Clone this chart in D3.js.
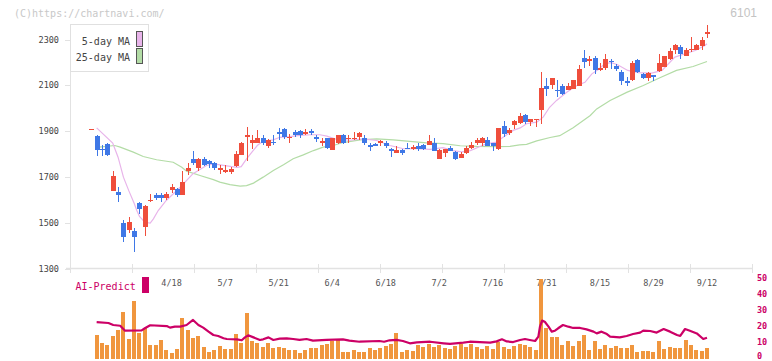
<!DOCTYPE html>
<html><head><meta charset="utf-8">
<script src="https://cdn.jsdelivr.net/npm/d3@7"></script>
<style>html,body{margin:0;padding:0;background:#fff;}svg{display:block;}</style>
</head><body>
<svg id="chart" width="772" height="361"></svg>
<script>
// ---- data ----
const opens  = [1907,1878,1823,1845,1638,1632,1500,1466,1462,1587,1480,1593,1619,1619,1606,1642,1648,1623,1727,1780,1740,1780,1768,1760,1731,1726,1720,1747,1797,1873,1848,1848,1871,1834,1854,1895,1907,1874,1895,1902,1891,1902,1876,1847,1868,1818,1847,1881,1869,1870,1875,1872,1841,1843,1847,1850,1821,1804,1817,1828,1826,1834,1840,1841,1850,1777,1805,1828,1807,1782,1804,1827,1849,1849,1863,1849,1820,1923,1891,1925,1935,1972,1939,1952,1990,2099,2102,2081,2098,2079,2083,2096,2218,2205,2218,2165,2175,2208,2186,2160,2117,2121,2212,2151,2133,2146,2162,2182,2213,2256,2269,2230,2257,2255,2271,2323];
const highs  = [1911,1885,1840,1848,1724,1654,1513,1527,1479,1589,1578,1626,1629,1630,1632,1667,1652,1724,1762,1815,1781,1786,1775,1764,1750,1754,1744,1815,1851,1920,1884,1903,1881,1864,1881,1913,1914,1888,1904,1906,1910,1907,1885,1869,1869,1870,1885,1888,1881,1895,1895,1885,1846,1849,1863,1855,1827,1833,1823,1850,1838,1846,1843,1885,1872,1820,1821,1834,1814,1808,1837,1852,1868,1873,1876,1850,1915,1942,1914,1948,1978,1973,1955,1955,2160,2134,2134,2125,2107,2112,2122,2190,2252,2230,2226,2197,2238,2213,2192,2165,2138,2208,2213,2155,2160,2147,2238,2227,2261,2281,2275,2264,2311,2281,2311,2364];
const lows   = [1907,1790,1793,1790,1638,1590,1415,1456,1374,1539,1444,1592,1598,1590,1601,1630,1614,1619,1707,1754,1727,1747,1740,1732,1713,1716,1712,1745,1795,1769,1824,1846,1841,1825,1840,1863,1866,1849,1876,1871,1885,1884,1852,1834,1823,1816,1845,1843,1847,1863,1863,1840,1812,1833,1837,1825,1786,1803,1795,1821,1817,1812,1818,1840,1811,1776,1789,1811,1772,1781,1802,1823,1838,1837,1833,1812,1818,1873,1882,1907,1932,1929,1924,1920,1932,2052,2083,2048,2057,2078,2082,2095,2176,2183,2150,2162,2168,2170,2162,2103,2096,2120,2153,2127,2117,2117,2160,2181,2212,2238,2216,2229,2246,2252,2255,2307];
const closes = [1911,1817,1820,1795,1702,1621,1437,1501,1437,1559,1571,1601,1606,1607,1627,1654,1620,1676,1741,1759,1780,1751,1755,1738,1740,1730,1733,1798,1850,1885,1859,1871,1846,1863,1847,1887,1873,1876,1881,1884,1895,1893,1865,1856,1825,1868,1881,1847,1872,1872,1891,1847,1830,1836,1856,1833,1814,1817,1804,1825,1829,1821,1824,1855,1814,1817,1820,1814,1779,1802,1827,1841,1860,1868,1834,1834,1914,1887,1903,1942,1968,1939,1954,1954,2090,2085,2133,2079,2063,2095,2121,2173,2201,2215,2165,2176,2216,2201,2169,2117,2109,2196,2160,2131,2155,2135,2196,2226,2248,2274,2238,2255,2260,2274,2296,2331];

// 5-day MA: [candle index, value]
const ma5 = [[1,1914],[4,1848],[5,1786],[6,1699],[7,1640],[8,1585],[8.5,1553],[9,1527],[10,1502],[11,1498],[11.6,1517],[12.5,1553],[14,1597],[16.6,1655],[19,1714],[21.5,1750],[22.8,1757],[24.7,1750],[27.2,1742],[28,1745],[29,1779],[30,1808],[31,1837],[32,1854],[33,1859],[34,1862],[35.2,1873],[37,1876],[39,1881],[41,1884],[42.7,1884],[44,1878],[45.5,1866],[48.3,1860],[50.8,1866],[53.3,1859],[55.8,1837],[58.3,1823],[61,1823],[63.3,1820],[65.7,1828],[67.5,1815],[69.2,1809],[70.8,1815],[72.6,1833],[73.8,1844],[75.7,1852],[76.9,1873],[78.8,1903],[80.1,1914],[81.3,1932],[83.2,1939],[84.4,1961],[85.6,2004],[86.9,2034],[88.8,2070],[90.7,2099],[92.2,2113],[93.5,2150],[94.7,2169],[95.9,2194],[97.1,2199],[98.3,2190],[100.2,2165],[102.2,2155],[104.7,2153],[106.6,2165],[107.8,2194],[109,2223],[110.9,2238],[112.8,2252],[114.6,2274],[115,2281]];
// 25-day MA
const ma25 = [[1.4,1830],[4.4,1837],[5.4,1830],[7.85,1808],[9.7,1789],[12.2,1775],[15.3,1764],[16.9,1742],[17.8,1725],[20.3,1706],[22.8,1688],[24,1677],[25.9,1666],[27.8,1660],[29,1662],[30.3,1673],[32.1,1699],[34,1728],[35.9,1753],[37.7,1779],[39.6,1796],[41.5,1815],[43.3,1830],[45.2,1837],[47,1850],[50.2,1862],[53.3,1866],[56.4,1862],[59.5,1855],[62.6,1849],[65.7,1845],[68.9,1836],[72,1833],[75.7,1832],[78.2,1833],[80,1840],[81.3,1842],[83.2,1857],[85.7,1872],[87.5,1880],[90,1915],[93.2,1968],[94.4,1997],[96.9,2034],[100.1,2070],[103.1,2099],[106.2,2133],[109.3,2165],[112.4,2182],[115,2204]];

// AI-Predict panel: bars (index 1..115) and line
const barVals = [15,10,8.75,14.4,18.1,29.4,12.5,36.25,16.25,19.4,8.75,8.75,11.9,5.6,3.75,6.25,25.6,18.1,13.1,14.4,7.5,4.4,5.6,8.1,6.25,6.25,15.6,10,28.75,11.25,10,7.5,10,6.9,7.5,6.9,5.6,5.6,3.75,5.6,6.9,6.9,8.75,9.4,11.25,12.5,4.4,4.4,5.6,4.4,4.4,6.9,5.6,6.9,8.1,9.4,16.25,4.4,5.6,5,8.75,7.5,9.4,7.5,8.75,6.9,6.25,8.1,9.4,7.5,9.4,7.5,6.25,8.1,6.25,10.6,7.5,6.25,8.1,9.4,8.75,7.5,5.6,50,19.4,13.75,13.75,8.75,11.25,8.1,11.25,15,5.6,11.25,6.25,8.75,6.9,8.1,6.9,6.9,8.75,4.4,5,5,4.4,11.25,6.25,7.5,6.9,6.9,11.9,8.75,5.6,5,6.9];
const aiLine = [[1,23.1],[3.2,22.5],[4.1,21.25],[5.4,20.8],[6.3,17.7],[9.4,17.9],[10,19.2],[11,21.1],[14.1,20.6],[14.7,19.6],[15.6,20.2],[16.6,20.2],[17.8,21.25],[19,24.4],[20,21.25],[20.9,19.6],[21.9,17.1],[22.8,15],[23.7,14.4],[24.7,13],[25.3,12.5],[27.2,12.3],[28.1,11.7],[28.7,13.5],[29.3,14.8],[30.3,13.5],[31.5,11.9],[32.1,12.3],[33.1,13.5],[34,11.9],[35.2,12.7],[36.5,12.9],[37.7,12.5],[38.9,11.9],[40.2,12.5],[41.4,11.5],[43.9,11.9],[47,12.3],[48.2,11.5],[50.1,10.8],[53.8,11.25],[54.7,10.8],[55.7,11.7],[57,11.9],[58.2,11.25],[59.5,9.8],[60.8,10.4],[63.3,10.8],[65.8,9.8],[67,9.4],[69.5,10.2],[70.7,10.8],[74.5,10.2],[75.7,11],[76.7,12.3],[77.6,11],[78.8,10.6],[80.1,11.9],[81,12.5],[81.9,11.9],[82.9,11.25],[83.5,14],[83.8,20.2],[84.2,24],[84.7,23.3],[85.4,20.2],[86,17.1],[86.6,17.7],[87.2,19.2],[88.1,21.25],[89.1,20.2],[90,19.4],[91.3,19.4],[92.5,18.5],[93.8,17.1],[94.4,16],[95.3,17.1],[96.3,15.6],[96.9,14],[98.7,13.5],[100,14.4],[101.2,15.6],[102.5,16.5],[103.1,17.7],[104.4,17.5],[105.6,16.5],[106.9,18.75],[108.1,17.1],[109.4,15],[110,14.4],[110.9,18.75],[111.8,17.7],[113.1,16],[114.3,12.5],[115,13.3]];

const dateLabels = ["4/18","5/7","5/21","6/4","6/18","7/2","7/16","7/31","8/15","8/29","9/12"];
const dateIdx    = [15,25,35,45,55,65,75,85,95,105,115];
const priceTicks = [1300,1500,1700,1900,2100,2300];
const aiTicks    = [0,10,20,30,40,50];

// ---- drawing ----
const svg = d3.select("#chart");
const mono = "'DejaVu Sans Mono', monospace";
const C_UP = "#ef4e3c", C_DN = "#3f78e6";

const x = d3.scaleLinear().domain([0,115]).range([91.3,707]);
const y = d3.scaleLinear().domain([1300,2300]).range([268.5,39.5]);
const yAI = d3.scaleLinear().domain([0,50]).range([359,279]);
const frame = d3.scaleLinear().domain([0,11]).range([70,752]);

// watermark texts
svg.append("text").attr("x",14).attr("y",13).attr("dominant-baseline","central")
  .attr("font-family",mono).attr("font-size",10).attr("fill","#c8c8c8").text("(C)https://chartnavi.com/");
svg.append("text").attr("x",757).attr("y",12.5).attr("dominant-baseline","central").attr("text-anchor","end")
  .attr("font-family","'Liberation Sans', Arial, sans-serif").attr("font-size",12).attr("fill","#c4c4c4").text("6101");

// axes
const g = svg.append("g");
g.append("line").attr("x1",70.5).attr("x2",70.5).attr("y1",24).attr("y2",273).attr("stroke","#e2e2e2");
g.append("line").attr("x1",66).attr("x2",752).attr("y1",268.5).attr("y2",268.5).attr("stroke","#e2e2e2").attr("stroke-width",1.5);
g.selectAll(".xt").data(d3.range(0,12)).enter().append("line")
  .attr("x1",d=>Math.round(frame(d))+0.5).attr("x2",d=>Math.round(frame(d))+0.5)
  .attr("y1",264).attr("y2",273).attr("stroke","#e2e2e2");
g.selectAll(".yt").data(priceTicks).enter().append("line")
  .attr("x1",65).attr("x2",70).attr("y1",d=>Math.round(y(d))+0.5).attr("y2",d=>Math.round(y(d))+0.5).attr("stroke","#e2e2e2");
g.selectAll(".yl").data(priceTicks).enter().append("text")
  .attr("x",59).attr("y",d=>y(d)).attr("text-anchor","end").attr("dominant-baseline","central")
  .attr("font-family",mono).attr("font-size",8.5).attr("fill","#444").text(d=>d);

// MA lines
const maLine = d3.line().x(d=>x(d[0])).y(d=>y(d[1]));
svg.append("path").attr("d",maLine(ma25)).attr("fill","none").attr("stroke","#b3dca6").attr("stroke-width",1.2);
svg.append("path").attr("d",maLine(ma5)).attr("fill","none").attr("stroke","#e8b4ea").attr("stroke-width",1.2);

// candles
const candles = svg.append("g").attr("shape-rendering","crispEdges");
const idx = d3.range(opens.length);
candles.selectAll(".wick").data(idx).enter().append("line")
  .attr("x1",i=>Math.round(x(i))+0.5).attr("x2",i=>Math.round(x(i))+0.5)
  .attr("y1",i=>y(highs[i])).attr("y2",i=>y(lows[i]))
  .attr("stroke",i=>closes[i]>=opens[i]?C_UP:C_DN).attr("stroke-width",1);
candles.selectAll(".body").data(idx).enter().append("rect")
  .attr("x",i=>Math.round(x(i))-2).attr("width",5)
  .attr("y",i=>y(Math.max(opens[i],closes[i])))
  .attr("height",i=>Math.max(1.5,Math.abs(y(opens[i])-y(closes[i]))))
  .attr("fill",i=>closes[i]>=opens[i]?C_UP:C_DN);

// legend
const lg = svg.append("g");
lg.append("rect").attr("x",70.5).attr("y",24.5).attr("width",78).attr("height",47).attr("fill","#fff").attr("stroke","#e0e0e0");
lg.append("text").attr("x",130).attr("y",41.5).attr("text-anchor","end").attr("dominant-baseline","central")
  .attr("font-family",mono).attr("font-size",10).attr("fill","#444").text("5-day MA");
lg.append("text").attr("x",130).attr("y",57).attr("text-anchor","end").attr("dominant-baseline","central")
  .attr("font-family",mono).attr("font-size",10).attr("fill","#444").text("25-day MA");
lg.append("rect").attr("x",136.5).attr("y",31.5).attr("width",6).attr("height",15).attr("fill","#e8b4ea").attr("stroke","#555");
lg.append("rect").attr("x",136.5).attr("y",48.5).attr("width",6).attr("height",15).attr("fill","#b3dca6").attr("stroke","#555");

// date labels
svg.selectAll(".dl").data(dateLabels).enter().append("text")
  .attr("x",(d,k)=>x(dateIdx[k])).attr("y",283).attr("text-anchor","middle").attr("dominant-baseline","central")
  .attr("font-family",mono).attr("font-size",8.5).attr("fill","#555").text(d=>d);

// AI-Predict panel
svg.append("text").attr("x",75.5).attr("y",286).attr("dominant-baseline","central")
  .attr("font-family",mono).attr("font-size",10).attr("fill","#cc0066").text("AI-Predict");
svg.append("rect").attr("x",142).attr("y",277).attr("width",7).attr("height",16).attr("fill","#cc0066");

svg.append("g").attr("shape-rendering","crispEdges").selectAll("rect").data(barVals).enter().append("rect")
  .attr("x",(d,k)=>Math.round(x(k+1))-2).attr("width",4)
  .attr("y",d=>yAI(d)).attr("height",d=>yAI(0)-yAI(d)).attr("fill","#f0963e");

svg.append("path").attr("d",d3.line().x(d=>x(d[0])).y(d=>yAI(d[1]))(aiLine))
  .attr("fill","none").attr("stroke","#cc0066").attr("stroke-width",2.2).attr("stroke-linejoin","round");

svg.selectAll(".al").data(aiTicks).enter().append("text")
  .attr("x",757).attr("y",d=>Math.min(yAI(d)-1.5,355.5)).attr("dominant-baseline","central")
  .attr("font-family",mono).attr("font-size",8.5).attr("font-weight","bold").attr("fill","#cc0066").text(d=>d);
</script>
</body></html>
